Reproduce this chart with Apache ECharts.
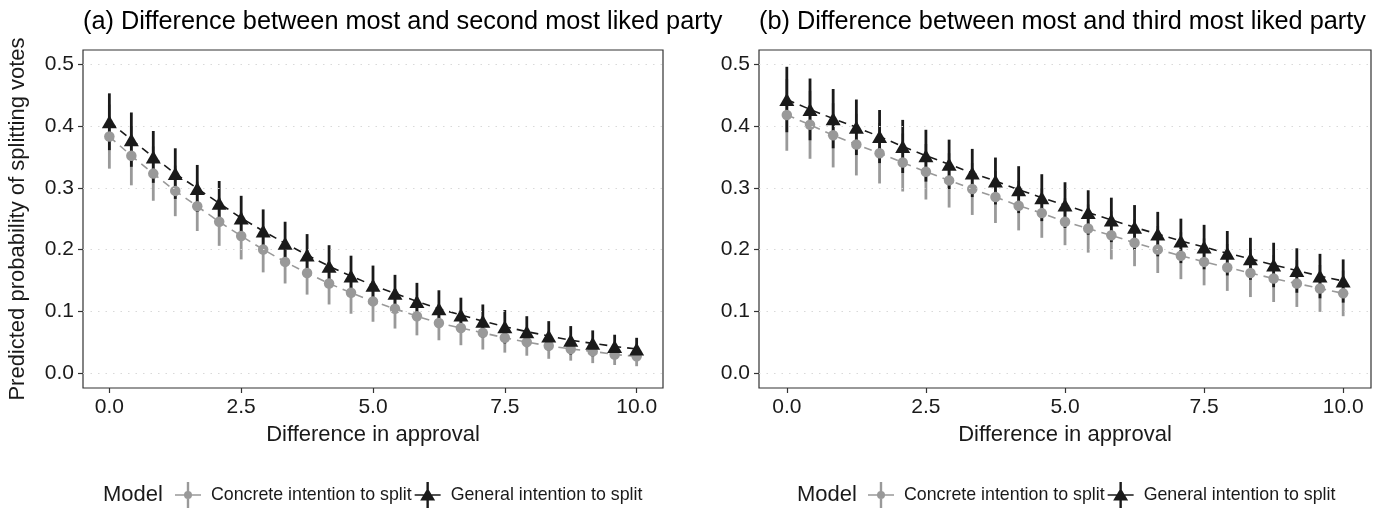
<!DOCTYPE html>
<html>
<head>
<meta charset="utf-8">
<script src="https://cdn.jsdelivr.net/npm/echarts@6/dist/echarts.min.js"></script>
<style>html,body{margin:0;padding:0;background:#fff}#c{width:1386px;height:509px}</style>
</head>
<body>
<div id="c"></div>
<script>
// ---- data ----
const xValues = [0, 0.417, 0.833, 1.25, 1.667, 2.083, 2.5, 2.917, 3.333, 3.75, 4.167, 4.583, 5, 5.417, 5.833, 6.25, 6.667, 7.083, 7.5, 7.917, 8.333, 8.75, 9.167, 9.583, 10];
const xTicks = [0, 2.5, 5, 7.5, 10];
const yTicks = [0, 0.1, 0.2, 0.3, 0.4, 0.5];
const modelNames = ["Concrete intention to split", "General intention to split"];
const panelTitles = ["(a) Difference between most and second most liked party", "(b) Difference between most and third most liked party"];

// Panel (a)
const aConcreteMean  = [0.383, 0.352, 0.323, 0.295, 0.270, 0.245, 0.222, 0.200, 0.180, 0.162, 0.145, 0.130, 0.116, 0.104, 0.092, 0.081, 0.073, 0.065, 0.057, 0.050, 0.044, 0.039, 0.035, 0.030, 0.027];
const aConcreteLower = [0.331, 0.304, 0.279, 0.254, 0.230, 0.206, 0.184, 0.163, 0.145, 0.127, 0.111, 0.096, 0.083, 0.072, 0.061, 0.053, 0.045, 0.038, 0.033, 0.028, 0.023, 0.020, 0.016, 0.013, 0.011];
const aConcreteUpper = [0.435, 0.400, 0.367, 0.336, 0.310, 0.284, 0.260, 0.237, 0.215, 0.197, 0.179, 0.164, 0.149, 0.136, 0.123, 0.109, 0.101, 0.092, 0.081, 0.072, 0.065, 0.058, 0.054, 0.047, 0.043];
const aGeneralMean   = [0.407, 0.378, 0.350, 0.323, 0.299, 0.275, 0.251, 0.230, 0.210, 0.191, 0.173, 0.157, 0.142, 0.129, 0.116, 0.104, 0.094, 0.084, 0.075, 0.067, 0.060, 0.053, 0.048, 0.043, 0.039];
const aGeneralLower  = [0.361, 0.334, 0.308, 0.282, 0.261, 0.239, 0.215, 0.195, 0.175, 0.157, 0.139, 0.124, 0.110, 0.099, 0.086, 0.074, 0.066, 0.057, 0.048, 0.042, 0.036, 0.030, 0.027, 0.024, 0.021];
const aGeneralUpper  = [0.453, 0.422, 0.392, 0.364, 0.337, 0.311, 0.287, 0.265, 0.245, 0.225, 0.207, 0.190, 0.174, 0.159, 0.146, 0.134, 0.122, 0.111, 0.102, 0.092, 0.084, 0.076, 0.069, 0.062, 0.057];

// Panel (b)
const bConcreteMean  = [0.418, 0.402, 0.385, 0.370, 0.356, 0.341, 0.326, 0.312, 0.298, 0.285, 0.271, 0.259, 0.245, 0.234, 0.223, 0.211, 0.200, 0.190, 0.180, 0.171, 0.162, 0.153, 0.145, 0.137, 0.129];
const bConcreteLower = [0.360, 0.347, 0.333, 0.320, 0.307, 0.294, 0.281, 0.268, 0.256, 0.243, 0.231, 0.219, 0.207, 0.195, 0.184, 0.173, 0.162, 0.152, 0.142, 0.133, 0.123, 0.115, 0.107, 0.099, 0.092];
const bConcreteUpper = [0.476, 0.457, 0.437, 0.420, 0.405, 0.388, 0.371, 0.356, 0.340, 0.327, 0.311, 0.299, 0.283, 0.273, 0.262, 0.249, 0.238, 0.228, 0.218, 0.209, 0.201, 0.191, 0.183, 0.175, 0.166];
const bGeneralMean   = [0.443, 0.427, 0.412, 0.398, 0.383, 0.367, 0.352, 0.338, 0.324, 0.311, 0.297, 0.284, 0.272, 0.260, 0.248, 0.236, 0.225, 0.214, 0.204, 0.194, 0.185, 0.175, 0.166, 0.157, 0.149];
const bGeneralLower  = [0.390, 0.377, 0.364, 0.353, 0.340, 0.324, 0.310, 0.298, 0.285, 0.273, 0.259, 0.246, 0.235, 0.224, 0.212, 0.200, 0.189, 0.178, 0.168, 0.158, 0.151, 0.139, 0.130, 0.121, 0.114];
const bGeneralUpper  = [0.496, 0.477, 0.460, 0.443, 0.426, 0.410, 0.394, 0.378, 0.363, 0.349, 0.335, 0.322, 0.309, 0.296, 0.284, 0.272, 0.261, 0.250, 0.240, 0.230, 0.219, 0.211, 0.202, 0.193, 0.184];

// ---- styling ----
const FONT = '"Liberation Sans", Arial, Helvetica, sans-serif';
const GRAY = '#999999';
const BLACK = '#1a1a1a';
const TEXT = '#1a1a1a';

const panels = [
  {concrete: [aConcreteMean, aConcreteLower, aConcreteUpper], general: [aGeneralMean, aGeneralLower, aGeneralUpper]},
  {concrete: [bConcreteMean, bConcreteLower, bConcreteUpper], general: [bGeneralMean, bGeneralLower, bGeneralUpper]}
];
const grids = [
  {left: 83, top: 50, width: 580, height: 338},
  {left: 759, top: 50, width: 612, height: 338}
];

const pts = (mean) => xValues.map((x, i) => [x, mean[i]]);
const bars = (lo, hi) => xValues.map((x, i) => [x, lo[i], hi[i]]);

function errRender(color) {
  return function (params, api) {
    const x = api.value(0);
    const p1 = api.coord([x, api.value(1)]);
    const p2 = api.coord([x, api.value(2)]);
    return {type: 'line', shape: {x1: p1[0], y1: p1[1], x2: p2[0], y2: p2[1]},
            style: {stroke: color, lineWidth: 2.8, lineCap: 'butt'}};
  };
}

const series = [];
panels.forEach((p, k) => {
  const ax = {xAxisIndex: k, yAxisIndex: k};
  series.push(Object.assign({type: 'scatter', name: modelNames[0], data: pts(p.concrete[0]), symbol: 'circle', symbolSize: 10.5,
    itemStyle: {color: GRAY, opacity: 1}, z: 4, silent: true}, ax));
  series.push(Object.assign({type: 'scatter', name: modelNames[1], data: pts(p.general[0]), symbol: 'triangle', symbolSize: [15, 13],
    itemStyle: {color: BLACK, opacity: 1}, z: 5, silent: true}, ax));
  series.push(Object.assign({type: 'line', name: modelNames[0], data: pts(p.concrete[0]), showSymbol: false, symbol: 'none',
    lineStyle: {color: GRAY, width: 1.6, type: [8, 6]}, itemStyle: {color: GRAY}, z: 1, silent: true,
    markLine: {silent: true, symbol: 'none', label: {show: false}, animation: false,
      lineStyle: {color: '#d9d9d9', width: 1.2, type: [1.5, 6]},
      data: yTicks.map(v => ({yAxis: v}))}}, ax));
  series.push(Object.assign({type: 'line', name: modelNames[1], data: pts(p.general[0]), showSymbol: false, symbol: 'none',
    lineStyle: {color: BLACK, width: 1.6, type: [8, 6]}, itemStyle: {color: BLACK}, z: 1, silent: true}, ax));
  series.push(Object.assign({type: 'custom', name: modelNames[0], data: bars(p.concrete[1], p.concrete[2]),
    renderItem: errRender(GRAY), encode: {x: 0, y: [1, 2]}, itemStyle: {color: GRAY}, z: 2, silent: true}, ax));
  series.push(Object.assign({type: 'custom', name: modelNames[1], data: bars(p.general[1], p.general[2]),
    renderItem: errRender(BLACK), encode: {x: 0, y: [1, 2]}, itemStyle: {color: BLACK}, z: 3, silent: true}, ax));
});

const concreteIcon = 'path://M0,12.3H26V13.7H0Z M11.8,0H14.2V26H11.8Z M9,13A4,4 0 1,1 17,13A4,4 0 1,1 9,13Z';
const generalIcon = 'path://M0,12.3H26V13.7H0Z M11.8,0H14.2V26H11.8Z M5.5,18.5L13,6L20.5,18.5Z';

function legendFor(left) {
  return {
    left: left, top: 482, padding: 0, orient: 'horizontal', itemWidth: 26, itemHeight: 26, itemGap: 3,
    selectedMode: false,
    textStyle: {fontFamily: FONT, fontSize: 17.8, color: TEXT, padding: [0, 0, 0, 5]},
    data: [
      {name: modelNames[0], icon: concreteIcon, itemStyle: {color: GRAY, borderWidth: 0}},
      {name: modelNames[1], icon: generalIcon, itemStyle: {color: BLACK, borderWidth: 0}}
    ]
  };
}

const xAxes = grids.map((g, k) => ({
  type: 'value', gridIndex: k, min: -0.5, max: 10.5,
  name: 'Difference in approval', nameLocation: 'middle', nameGap: 36,
  nameTextStyle: {fontFamily: FONT, fontSize: 22, color: TEXT},
  axisLine: {show: false, onZero: false},
  axisTick: {show: true, length: 5, lineStyle: {color: '#333333', width: 1.2}, customValues: xTicks},
  axisLabel: {fontFamily: FONT, fontSize: 21, color: TEXT, margin: 9, customValues: xTicks,
    formatter: v => Number(v).toFixed(1)},
  splitLine: {show: false}
}));
const yAxes = grids.map((g, k) => ({
  type: 'value', gridIndex: k, min: -0.0243, max: 0.5232,
  name: k === 0 ? 'Predicted probability of splitting votes' : '', nameLocation: 'middle', nameGap: 54,
  nameTextStyle: {fontFamily: FONT, fontSize: 22, color: TEXT},
  axisLine: {show: false, onZero: false},
  axisTick: {show: true, length: 5, lineStyle: {color: '#333333', width: 1.2}, customValues: yTicks},
  axisLabel: {fontFamily: FONT, fontSize: 21, color: TEXT, margin: 9, customValues: yTicks,
    formatter: v => Number(v).toFixed(1)},
  splitLine: {show: false}
}));

const option = {
  animation: false,
  backgroundColor: '#ffffff',
  title: [
    {text: panelTitles[0], left: 83, top: 10, padding: 0, textStyle: {fontFamily: FONT, fontSize: 25.3, fontWeight: 'normal', color: '#000'}},
    {text: panelTitles[1], left: 759, top: 10, padding: 0, textStyle: {fontFamily: FONT, fontSize: 25.3, fontWeight: 'normal', color: '#000'}},
    {text: 'Model', left: 103, top: 484, padding: 0, textStyle: {fontFamily: FONT, fontSize: 22, fontWeight: 'normal', color: TEXT}},
    {text: 'Model', left: 797, top: 484, padding: 0, textStyle: {fontFamily: FONT, fontSize: 22, fontWeight: 'normal', color: TEXT}}
  ],
  legend: [legendFor(175), legendFor(868)],
  grid: grids.map(g => Object.assign({show: true, borderColor: '#333333', borderWidth: 1.2, backgroundColor: '#ffffff', containLabel: false}, g)),
  xAxis: xAxes,
  yAxis: yAxes,
  series: series
};

const chart = echarts.init(document.getElementById('c'), null, {renderer: 'canvas'});
chart.setOption(option);
</script>
</body>
</html>
